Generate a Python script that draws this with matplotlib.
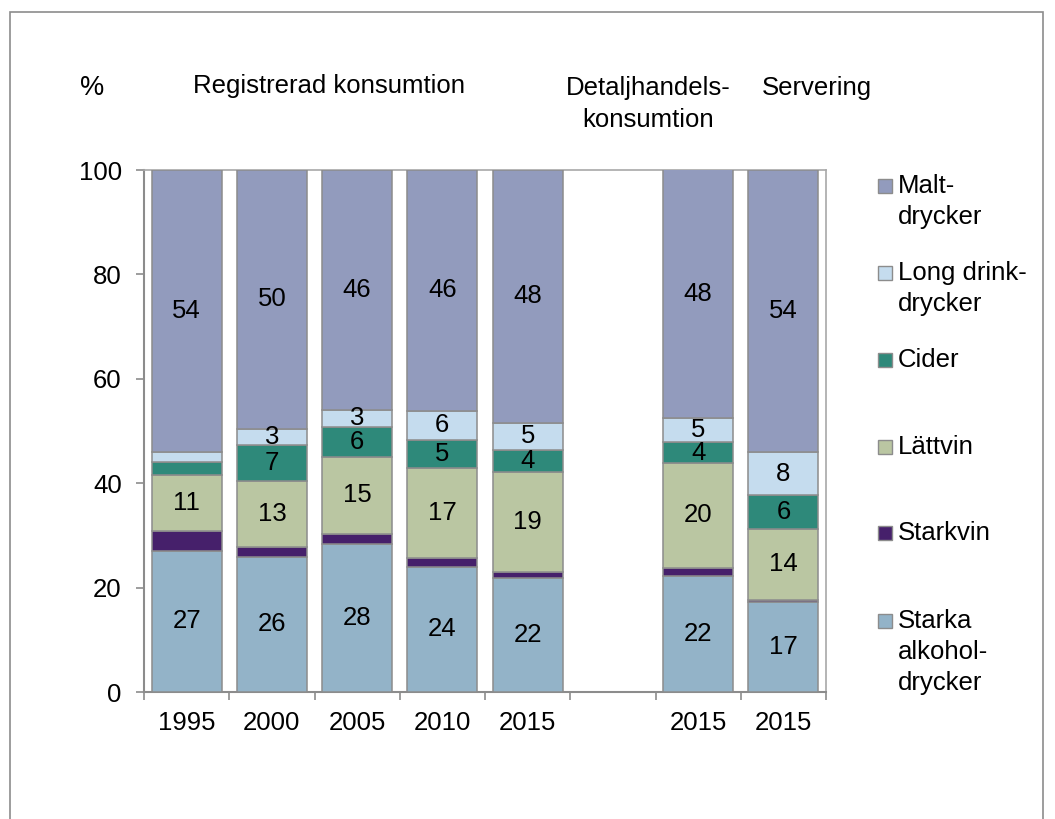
import matplotlib
matplotlib.use("Agg")
import matplotlib.pyplot as plt
from matplotlib.patches import Rectangle
import numpy as np

plt.rcParams['font.family'] = ['Liberation Sans', 'DejaVu Sans']

# ---- data ----
tick_labels = ["1995", "2000", "2005", "2010", "2015", "", "2015", "2015"]
positions = [0, 1, 2, 3, 4, 6, 7]
series_names = ["Starka\nalkohol-\ndrycker", "Starkvin", "Lättvin", "Cider",
                "Long drink-\ndrycker", "Malt-\ndrycker"]
starka   = [27.1, 25.9, 28.3, 24.0, 21.8, 22.2, 17.3]
starkvin = [3.7, 1.9, 2.0, 1.6, 1.2, 1.6, 0.3]
lattvin  = [10.8, 12.7, 14.8, 17.4, 19.2, 20.1, 13.7]
cider    = [2.5, 6.8, 5.7, 5.3, 4.2, 3.9, 6.4]
longdr   = [1.9, 3.1, 3.2, 5.6, 5.2, 4.7, 8.2]
malt     = [54.0, 49.6, 46.0, 46.1, 48.4, 47.6, 54.1]
series = [starka, starkvin, lattvin, cider, longdr, malt]
colors = ["#93B3C8", "#46206B", "#BAC6A2", "#2E897A", "#C5DCEE", "#929BBD"]
show_labels = [True, False, True, True, True, True]

W, H = 1055, 819
fig = plt.figure(figsize=(W / 100, H / 100), dpi=100)

def fx(px):
    return px / W

def fy(py):
    return 1 - py / H

# figure border
fig.patches.append(Rectangle((fx(10), fy(835)), fx(1043) - fx(10), fy(12) - fy(835),
                             transform=fig.transFigure, fill=False,
                             edgecolor="#8C8C8C", linewidth=1.2))

ax = fig.add_axes([fx(144), fy(692), fx(826) - fx(144), fy(170) - fy(692)])
edge = "#8C8C8C"
fs = 18.5

bottom = np.zeros(len(positions))
for vals, col, lab in zip(series, colors, show_labels):
    vals = np.array(vals)
    ax.bar(positions, vals, width=0.82, bottom=bottom, color=col,
           edgecolor=edge, linewidth=1.1, zorder=3)
    if lab:
        for x, b, v in zip(positions, bottom, vals):
            if v >= 2.8:
                ax.text(x, b + v / 2, f"{int(round(v))}", ha="center", va="center",
                        fontsize=fs, color="black", zorder=4)
    bottom += vals

ax.set_xlim(-0.5, 7.5)
ax.set_ylim(0, 100)
ax.set_yticks(range(0, 101, 20))
ax.set_xticks(range(8))
ax.set_xticklabels(tick_labels)
ax.set_xticks(np.arange(-0.5, 8.0, 1.0), minor=True)
ax.tick_params(axis="x", which="major", length=0, pad=14, labelsize=fs)
ax.tick_params(axis="x", which="minor", length=6, width=1.2, color=edge, direction="out")
ax.tick_params(axis="y", length=6, width=1.2, color=edge, direction="out", pad=10,
               labelsize=fs)
for s in ["left", "bottom"]:
    ax.spines[s].set_color(edge)
    ax.spines[s].set_linewidth(1.5)
for s in ["top", "right"]:
    ax.spines[s].set_color("#A8A8A8")
    ax.spines[s].set_linewidth(1.2)

# header texts
fig.text(fx(92), fy(88), "%", ha="center", va="center", fontsize=fs + 1)
fig.text(fx(193), fy(86), "Registrerad konsumtion", ha="left", va="center", fontsize=fs)
fig.text(fx(648), fy(88), "Detaljhandels-", ha="center", va="center", fontsize=fs)
fig.text(fx(648), fy(120), "konsumtion", ha="center", va="center", fontsize=fs)
fig.text(fx(817), fy(88), "Servering", ha="center", va="center", fontsize=fs)

# legend (top to bottom)
leg_y = [186, 273, 360, 447, 533, 621]
for name, col, y in zip(series_names[::-1], colors[::-1], leg_y):
    fig.patches.append(Rectangle((fx(878), fy(y + 7)), fx(14), 14 / H,
                                 transform=fig.transFigure, facecolor=col,
                                 edgecolor=edge, linewidth=1.0))
    for i, line in enumerate(name.split("\n")):
        fig.text(fx(898), fy(y + i * 31), line, ha="left", va="center", fontsize=fs)

fig.savefig("out.png", dpi=100)
